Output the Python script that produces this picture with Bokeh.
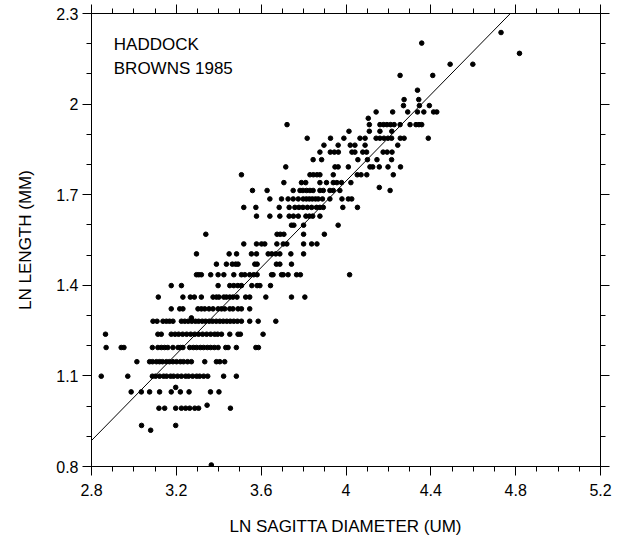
from bokeh.plotting import figure
from bokeh.models import Range1d, LinearAxis, FixedTicker, Label
from bokeh.embed import file_html
from bokeh.resources import INLINE

# ---------------- data ----------------
x_ticks = [2.8, 3.2, 3.6, 4.0, 4.4, 4.8, 5.2]
x_tick_labels = ["2.8", "3.2", "3.6", "4", "4.4", "4.8", "5.2"]
y_ticks = [0.8, 1.1, 1.4, 1.7, 2.0, 2.3]
y_tick_labels = ["0.8", "1.1", "1.4", "1.7", "2", "2.3"]

# length levels (ln length) and the sagitta values observed on each level
row_levels = [0.805, 0.92, 0.936, 0.993, 1.047, 1.099, 1.147, 1.194, 1.238, 1.281,
              1.322, 1.361, 1.399, 1.435, 1.470, 1.504, 1.537, 1.569, 1.599, 1.629,
              1.658, 1.686, 1.714, 1.740, 1.766, 1.792, 1.816, 1.841, 1.864, 1.887,
              1.910, 1.932, 1.953, 1.974, 1.995, 2.015]
row_x = [
    [3.365],
    [3.079],
    [3.036, 3.197],
    [3.118, 3.145, 3.197, 3.224, 3.244, 3.263, 3.287, 3.305, 3.455],
    [2.987, 3.035, 3.074, 3.121, 3.176, 3.219, 3.26, 3.361, 3.401],
    [2.846, 2.971, 3.087, 3.102, 3.121, 3.14, 3.154, 3.173, 3.187, 3.206, 3.224,
     3.244, 3.258, 3.277, 3.296, 3.31, 3.329, 3.348, 3.423, 3.483],
    [3.014, 3.074, 3.088, 3.106, 3.121, 3.135, 3.153, 3.168, 3.184, 3.201, 3.219,
     3.234, 3.253, 3.271, 3.334, 3.389, 3.405, 3.428],
    [2.869, 2.94, 2.953, 3.087, 3.113, 3.129, 3.145, 3.16, 3.184, 3.208, 3.22, 3.231,
     3.263, 3.28, 3.296, 3.313, 3.329, 3.346, 3.362, 3.379, 3.397, 3.433, 3.444,
     3.483, 3.575, 3.587],
    [2.866, 3.113, 3.129, 3.176, 3.194, 3.211, 3.23, 3.249, 3.268, 3.287, 3.305,
     3.324, 3.343, 3.362, 3.381, 3.395, 3.413, 3.452, 3.491, 3.502, 3.609],
    [3.09, 3.109, 3.137, 3.153, 3.168, 3.184, 3.224, 3.24, 3.256, 3.273, 3.29, 3.305,
     3.322, 3.338, 3.355, 3.371, 3.388, 3.405, 3.421, 3.438, 3.454, 3.471, 3.488,
     3.507, 3.546, 3.586, 3.669],
    [3.176, 3.216, 3.231, 3.302, 3.318, 3.334, 3.354, 3.373, 3.397, 3.413, 3.428,
     3.452, 3.467, 3.491, 3.507, 3.546],
    [3.115, 3.231, 3.266, 3.285, 3.318, 3.373, 3.389, 3.401, 3.424, 3.436, 3.452,
     3.467, 3.486, 3.527, 3.546, 3.622, 3.743, 3.806],
    [3.176, 3.224, 3.397, 3.452, 3.471, 3.49, 3.507, 3.556, 3.581, 3.594, 3.644],
    [3.295, 3.306, 3.318, 3.362, 3.397, 3.424, 3.471, 3.507, 3.523, 3.546, 3.565,
     3.581, 3.649, 3.656, 3.696, 3.704, 3.727, 3.767, 3.785, 4.017],
    [3.389, 3.436, 3.464, 3.48, 3.491, 3.57, 3.581, 3.672, 3.688, 3.743],
    [3.295, 3.449, 3.484, 3.554, 3.578, 3.633, 3.65, 3.669, 3.688, 3.74, 3.80],
    [3.518, 3.578, 3.602, 3.617, 3.674, 3.704, 3.721, 3.80, 3.838, 3.863],
    [3.339, 3.675, 3.69, 3.707, 3.80, 3.898],
    [3.743, 3.754, 3.80, 3.963],
    [3.578, 3.641, 3.688, 3.732, 3.752, 3.775, 3.811, 3.827, 3.843, 3.877],
    [3.518, 3.575, 3.685, 3.732, 3.759, 3.778, 3.797, 3.818, 3.838, 3.861, 3.877,
     3.893, 3.985, 4.054],
    [3.641, 3.696, 3.727, 3.751, 3.775, 3.798, 3.813, 3.827, 3.841, 3.856, 3.869,
     3.889, 3.924, 3.981, 4.011, 4.027],
    [3.559, 3.628, 3.751, 3.783, 3.797, 3.814, 3.83, 3.845, 3.877, 3.893, 3.924,
     3.94, 3.971, 4.208],
    [3.707, 3.79, 3.81, 3.877, 3.908, 3.94, 3.957, 3.979, 4.023],
    [3.507, 3.83, 3.846, 3.863, 3.877, 3.94, 4.053, 4.071, 4.098, 4.223],
    [3.716, 3.948, 3.963, 4.011, 4.113, 4.126, 4.157, 4.198, 4.257],
    [3.845, 3.885, 4.056, 4.101, 4.146, 4.215],
    [3.877, 3.926, 3.945, 3.964, 4.028, 4.042, 4.079, 4.097, 4.175, 4.194, 4.217],
    [3.896, 3.963, 4.02, 4.042, 4.09, 4.244],
    [3.817, 3.927, 3.99, 4.066, 4.09, 4.142, 4.16, 4.179, 4.198, 4.215, 4.256,
     4.274, 4.388],
    [4.014, 4.11, 4.16, 4.216],
    [3.722, 4.11, 4.16, 4.177, 4.193, 4.21, 4.227, 4.255, 4.302, 4.33, 4.344, 4.357],
    [4.105],
    [4.142, 4.22, 4.291, 4.337, 4.367, 4.413, 4.428],
    [4.271, 4.346, 4.393],
    [4.274, 4.343],
]

# isolated points off the regular levels
extra_x = [3.345, 3.197, 3.271, 4.157, 4.337, 4.255, 4.409, 4.491, 4.598, 4.818, 4.357, 4.731]
extra_y = [1.003, 1.062, 1.292, 1.724, 2.046, 2.095, 2.095, 2.132, 2.132, 2.168, 2.202, 2.237]

# fitted regression line (end points)
fit_x = [2.8, 4.775]
fit_y = [0.886, 2.3]

# ---------------- figure ----------------
FONT = "Liberation Sans"

xs, ys = [], []
for lvl, row in zip(row_levels, row_x):
    for xv in row:
        xs.append(xv)
        ys.append(lvl)
xs += extra_x
ys += extra_y

p = figure(width=628, height=548,
           x_range=Range1d(2.8, 5.2), y_range=Range1d(0.8, 2.3),
           output_backend="svg", toolbar_location=None,
           min_border_left=91, min_border_right=28,
           min_border_top=13, min_border_bottom=82,
           x_axis_label="LN SAGITTA DIAMETER (UM)",
           y_axis_label="LN LENGTH (MM)")
p.grid.visible = False
p.outline_line_color = None
p.background_fill_color = "white"
p.border_fill_color = "white"

x_minor = [round(2.8 + 0.1 * i, 1) for i in range(25)]
y_minor = [round(0.8 + 0.1 * i, 1) for i in range(16)]
x_ticker = FixedTicker(ticks=x_ticks, minor_ticks=x_minor)
y_ticker = FixedTicker(ticks=y_ticks, minor_ticks=y_minor)


def style(ax):
    ax.axis_line_color = "black"
    ax.axis_line_width = 1
    ax.major_tick_out = 9
    ax.major_tick_in = 0
    ax.minor_tick_out = 5
    ax.minor_tick_in = 0
    ax.major_tick_line_color = "black"
    ax.minor_tick_line_color = "black"
    ax.major_label_text_font = FONT
    ax.major_label_text_font_size = "16px"
    ax.major_label_text_color = "black"
    ax.axis_label_text_font = FONT
    ax.axis_label_text_font_size = "17px"
    ax.axis_label_text_font_style = "normal"
    ax.axis_label_text_color = "black"


xa = p.xaxis[0]
xa.ticker = x_ticker
xa.major_label_overrides = {t: s for t, s in zip(x_ticks, x_tick_labels)}
style(xa)
xa.major_label_standoff = 8
xa.axis_label_standoff = 18

ya = p.yaxis[0]
ya.ticker = y_ticker
ya.major_label_overrides = {t: s for t, s in zip(y_ticks, y_tick_labels)}
style(ya)
ya.major_label_standoff = 4
ya.axis_label_standoff = 18

# frame axes on top and right: ticks only, no labels drawn
top = LinearAxis(ticker=x_ticker)
style(top)
top.major_label_text_color = None
top.major_label_standoff = 0
p.add_layout(top, "above")

right = LinearAxis(ticker=y_ticker)
style(right)
right.major_label_text_color = None
right.major_label_standoff = 0
p.add_layout(right, "right")

p.scatter(xs, ys, size=4.6, marker="circle", color="black")
p.line(fit_x, fit_y, line_color="black", line_width=1)

for txt, yb in (("HADDOCK", 2.197), ("BROWNS 1985", 2.118)):
    p.add_layout(Label(x=2.905, y=yb, text=txt, text_font=FONT,
                       text_font_size="17px", text_color="black",
                       text_baseline="alphabetic", text_align="left"))

open("out.html", "w").write(file_html(p, INLINE))
